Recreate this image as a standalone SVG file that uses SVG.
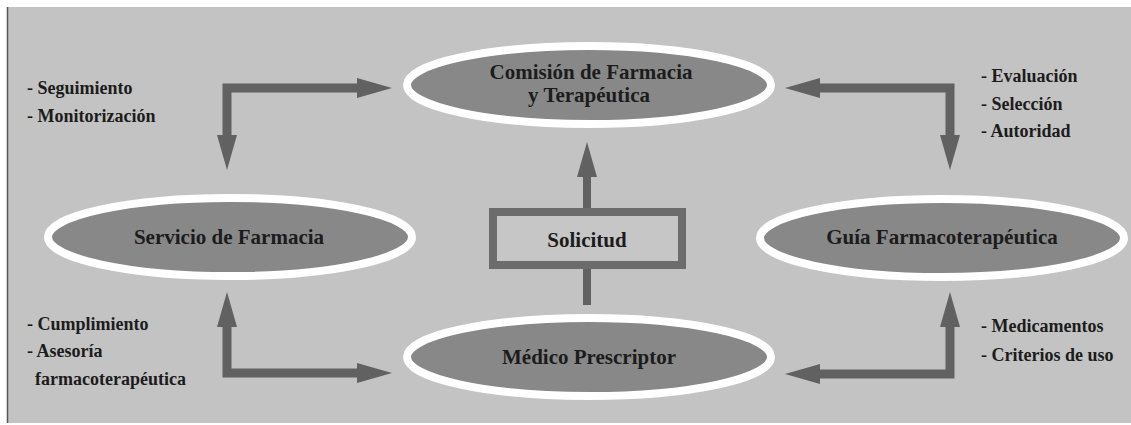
<svg xmlns="http://www.w3.org/2000/svg" width="1131" height="425" viewBox="0 0 1131 425">
  <style>
    .bg { fill: #c3c3c3; }
    .node ellipse { fill: #888888; stroke: #ffffff; stroke-width: 8; }
    .box { fill: #c6c6c6; stroke: #6c6c6c; stroke-width: 8; }
    .title { font-family: "Liberation Serif", "Times New Roman", serif; font-weight: bold; font-size: 21px; fill: #1c1c1c; text-anchor: middle; }
    .lbl { font-family: "Liberation Serif", "Times New Roman", serif; font-weight: bold; font-size: 18px; fill: #1c1c1c; }
    .shaft { fill: none; stroke: #616161; stroke-width: 9; stroke-linejoin: miter; stroke-linecap: butt; }
    .thin { stroke-width: 8; }
  </style>
  <defs>
    <marker id="head" viewBox="0 0 35 20" refX="0" refY="10" markerWidth="35" markerHeight="20" markerUnits="userSpaceOnUse" orient="auto-start-reverse">
      <path d="M0,0 L35,10 L0,20 Z" fill="#616161"/>
    </marker>
  </defs>

  <rect x="0" y="0" width="1131" height="425" fill="#ffffff"/>
  <rect class="bg" x="7" y="7" width="1124" height="416"/>
  <line x1="7.5" y1="7" x2="7.5" y2="423" stroke="#555555" stroke-width="1.5"/>

  <g id="connectors">
    <path class="shaft" d="M357,88 H227 V135" marker-start="url(#head)" marker-end="url(#head)"/>
    <path class="shaft" d="M820,88 H950 V135" marker-start="url(#head)" marker-end="url(#head)"/>
    <path class="shaft" d="M227,327 V373 H357" marker-start="url(#head)" marker-end="url(#head)"/>
    <path class="shaft" d="M950,327 V374 H820" marker-start="url(#head)" marker-end="url(#head)"/>
    <path class="shaft thin" d="M587,305 V177" marker-end="url(#head)"/>
  </g>

  <g id="comision" class="node">
    <ellipse cx="589" cy="85" rx="182" ry="39"/>
    <text class="title" x="591" y="79">Comisión de Farmacia</text>
    <text class="title" x="589" y="102">y Terapéutica</text>
  </g>

  <g id="servicio" class="node">
    <ellipse cx="230" cy="237" rx="182" ry="39"/>
    <text class="title" x="229" y="244">Servicio de Farmacia</text>
  </g>

  <g id="guia" class="node">
    <ellipse cx="942" cy="238" rx="182" ry="39"/>
    <text class="title" x="942" y="244">Guía Farmacoterapéutica</text>
  </g>

  <g id="medico" class="node">
    <ellipse cx="589" cy="357" rx="182" ry="39"/>
    <text class="title" x="589" y="364">Médico Prescriptor</text>
  </g>

  <g id="solicitud">
    <rect class="box" x="493" y="212" width="189" height="53"/>
    <text class="title" x="587" y="247">Solicitud</text>
  </g>

  <g id="labels-top-left">
    <text class="lbl" x="27" y="94">- Seguimiento</text>
    <text class="lbl" x="27" y="122">- Monitorización</text>
  </g>
  <g id="labels-top-right">
    <text class="lbl" x="981" y="82">- Evaluación</text>
    <text class="lbl" x="981" y="110">- Selección</text>
    <text class="lbl" x="981" y="137">- Autoridad</text>
  </g>
  <g id="labels-bottom-left">
    <text class="lbl" x="27" y="330">- Cumplimiento</text>
    <text class="lbl" x="27" y="357">- Asesoría</text>
    <text class="lbl" x="35" y="385">farmacoterapéutica</text>
  </g>
  <g id="labels-bottom-right">
    <text class="lbl" x="981" y="332">- Medicamentos</text>
    <text class="lbl" x="981" y="361">- Criterios de uso</text>
  </g>
</svg>
